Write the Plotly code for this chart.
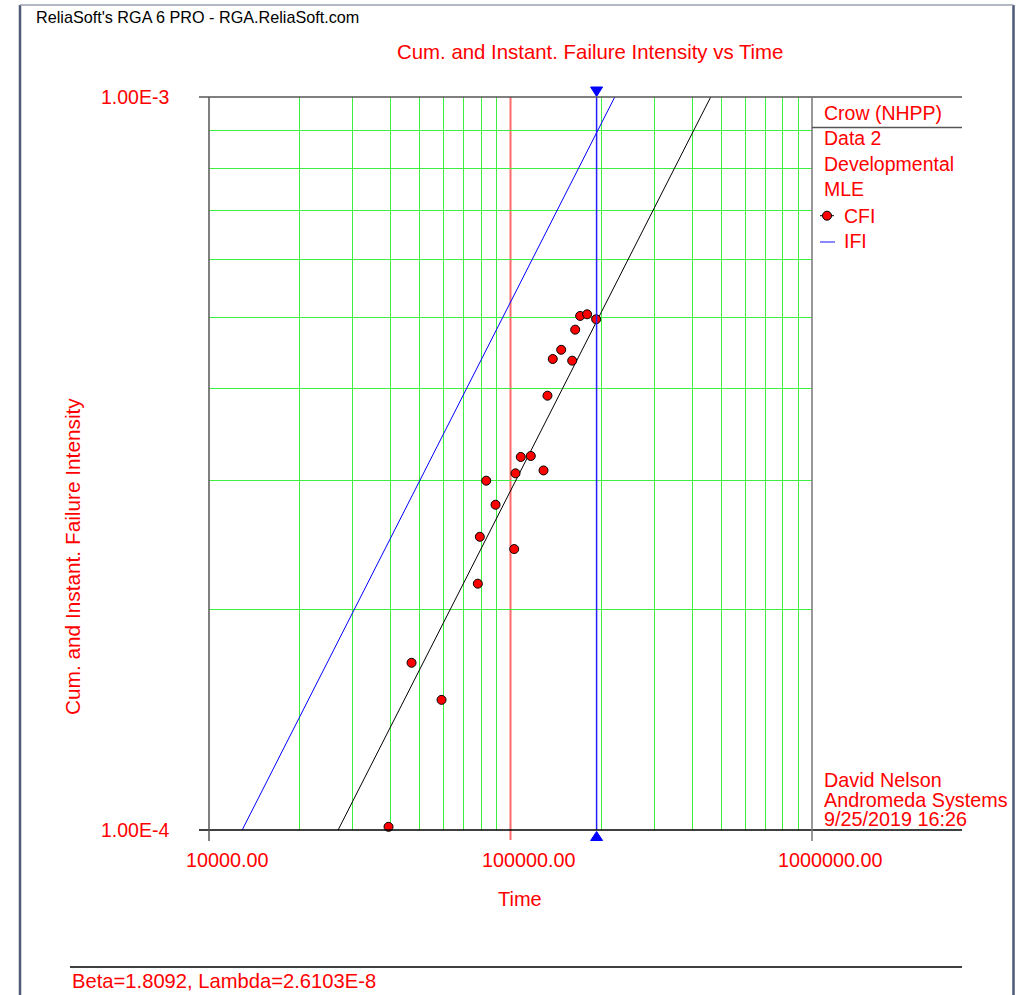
import numpy as np
import plotly.graph_objects as go

# Crow (NHPP) developmental data set "Data 2": cumulative failure intensity points
time_hours = [39400, 46970, 59060, 77930, 79130, 83080, 89200, 102860, 103900, 108170,
              116760, 128660, 132630, 138100, 147290, 160180, 163900, 170220, 179560, 192330]
cfi_values = [1.010e-4, 1.691e-4, 1.505e-4, 2.168e-4, 2.512e-4, 2.996e-4, 2.778e-4, 2.417e-4,
              3.066e-4, 3.228e-4, 3.238e-4, 3.094e-4, 3.913e-4, 4.391e-4, 4.520e-4, 4.368e-4,
              4.815e-4, 5.027e-4, 5.053e-4, 4.975e-4]

# MLE parameters
beta = 1.8092
lam = 2.6103e-8
end_time = 193000          # end of test (blue cursor)
ref_time = 100000          # red reference cursor

x_tick_values = [1e4, 1e5, 1e6]
x_tick_labels = ["10000.00", "100000.00", "1000000.00"]
y_tick_values = [1e-4, 1e-3]
y_tick_labels = ["1.00E-4", "1.00E-3"]
x_grid = [m * 10 ** d for d in (4, 5) for m in range(2, 10)]
y_grid = [m * 1e-4 for m in range(2, 10)]

legend_rows = ["Crow (NHPP)", "Data 2", "Developmental", "MLE"]
user_rows = ["David Nelson", "Andromeda Systems", "9/25/2019 16:26"]

W, H = 1019, 995
ML, MR, MT, MB = 209, 207, 97, 165
PW, PH = W - ML - MR, H - MT - MB
X_RANGE = [4, 6]
Y_RANGE = [-4, -3]
FONT = "Liberation Sans, Arial, sans-serif"
RED = "#ff0000"


def px(x):
    return (x - ML) / PW


def py(y):
    return (H - MB - y) / PH


def xpaper(v):
    return (np.log10(v) - X_RANGE[0]) / (X_RANGE[1] - X_RANGE[0])


def ypaper(v):
    return (np.log10(v) - Y_RANGE[0]) / (Y_RANGE[1] - Y_RANGE[0])


fig = go.Figure()

t_fit = np.logspace(X_RANGE[0], X_RANGE[1], 400)
fig.add_trace(go.Scatter(x=t_fit, y=lam * beta * t_fit ** (beta - 1), mode="lines",
                         line=dict(color="#0000ff", width=1), hoverinfo="skip"))
fig.add_trace(go.Scatter(x=t_fit, y=lam * t_fit ** (beta - 1), mode="lines",
                         line=dict(color="#000000", width=1), hoverinfo="skip"))
fig.add_trace(go.Scatter(x=time_hours, y=cfi_values, mode="markers", cliponaxis=False,
                         marker=dict(size=9, color=RED, line=dict(color="#000000", width=1))))

shapes = []


def seg(x0, y0, x1, y1, color, width=1, layer="above"):
    shapes.append(dict(type="line", xref="paper", yref="paper", x0=x0, y0=y0, x1=x1, y1=y1,
                       line=dict(color=color, width=width), layer=layer))


# cursors
xr = xpaper(ref_time)
seg(xr, py(840), xr, 1, "#ff6a6a", 2, "below")
xe = xpaper(end_time)
seg(xe, 0, xe, 1, "#2020ff", 1.5)
hw = 6 / PW
shapes.append(dict(type="path", xref="paper", yref="paper", fillcolor="#0000ff",
                   line=dict(color="#0000ff", width=1),
                   path=f"M {xe - hw},{py(87)} L {xe + hw},{py(87)} L {xe},{py(96.5)} Z"))
shapes.append(dict(type="path", xref="paper", yref="paper", fillcolor="#0000ff",
                   line=dict(color="#0000ff", width=1),
                   path=f"M {xe - hw},{py(840.5)} L {xe + hw},{py(840.5)} L {xe},{py(831.5)} Z"))

# frame of the plot
seg(px(199), 1, px(962), 1, "#555555", 1.5)
seg(px(199), 0, px(962), 0, "#000000", 1.5)
seg(0, py(841), 0, 1, "#555555", 1.5)
seg(1, py(841), 1, 1, "#777777", 1.5)
seg(1, py(127.5), px(962), py(127.5), "#555555", 1.5)

# footer rule
seg(px(70), py(967), px(962), py(967), "#000000", 1.5)

# page border
seg(px(20), py(5), px(20), py(1000), "#4f5a78", 2.5)
seg(px(1013.5), py(5), px(1013.5), py(1000), "#4f5a78", 2.5)
seg(px(20), py(5), px(1013.5), py(5), "#9aa0b0", 1.5)

# legend symbols
seg(px(820), py(215.7), px(834), py(215.7), "#000000", 1)
r = 4.5
shapes.append(dict(type="circle", xref="paper", yref="paper",
                   x0=px(827 - r), x1=px(827 + r), y0=py(215.7 + r), y1=py(215.7 - r),
                   fillcolor=RED, line=dict(color="#000000", width=1)))
seg(px(820), py(242), px(835), py(242), "#6060ff", 1.5)

annotations = []


def label(text, x, y, size=19.5, color=RED, xanchor="left", yanchor="middle", angle=0):
    annotations.append(dict(text=text, x=x, y=y, xref="paper", yref="paper",
                            showarrow=False, xanchor=xanchor, yanchor=yanchor, textangle=angle,
                            font=dict(family=FONT, size=size, color=color)))


label("ReliaSoft's RGA 6 PRO - RGA.ReliaSoft.com", px(34), py(17), size=16.2, color="#000000")
label("Cum. and Instant. Failure Intensity vs Time", px(590), py(52), size=20.4, xanchor="center")
label("Time", px(520), py(899), size=20, xanchor="center")
label("Cum. and Instant. Failure Intensity", px(72), py(557), size=20.8,
      xanchor="center", angle=-90)

for v, t in zip(x_tick_values, x_tick_labels):
    annotations.append(dict(text=t, x=np.log10(v), y=py(860), xref="x", yref="paper",
                            showarrow=False, xanchor="center", yanchor="middle", xshift=18,
                            font=dict(family=FONT, size=19.8, color=RED)))
for v, t in zip(y_tick_values, y_tick_labels):
    label(t, px(171), ypaper(v), xanchor="right")

for i, t in enumerate(legend_rows):
    label(t, px(822), py(113 + 25.4 * i))
label("CFI", px(842), py(215.5))
label("IFI", px(842), py(241))

for i, t in enumerate(user_rows):
    label(t, px(822), py(780 + 19.6 * i), size=19.8)

label("Beta=%.4f, Lambda=%.4fE-8" % (beta, lam / 1e-8), px(70), py(981), size=20.2)

fig.update_layout(
    width=W, height=H,
    margin=dict(l=ML, r=MR, t=MT, b=MB, pad=0),
    paper_bgcolor="#ffffff", plot_bgcolor="#ffffff",
    showlegend=False,
    xaxis=dict(type="log", range=X_RANGE, tickvals=x_grid, showticklabels=False, ticks="",
               showgrid=True, gridcolor="#3ef03e", gridwidth=1.2, zeroline=False, showline=False),
    yaxis=dict(type="log", range=Y_RANGE, tickvals=y_grid, showticklabels=False, ticks="",
               showgrid=True, gridcolor="#3ef03e", gridwidth=1.2, zeroline=False, showline=False),
    shapes=shapes,
    annotations=annotations,
)

fig.write_html("out.html")
